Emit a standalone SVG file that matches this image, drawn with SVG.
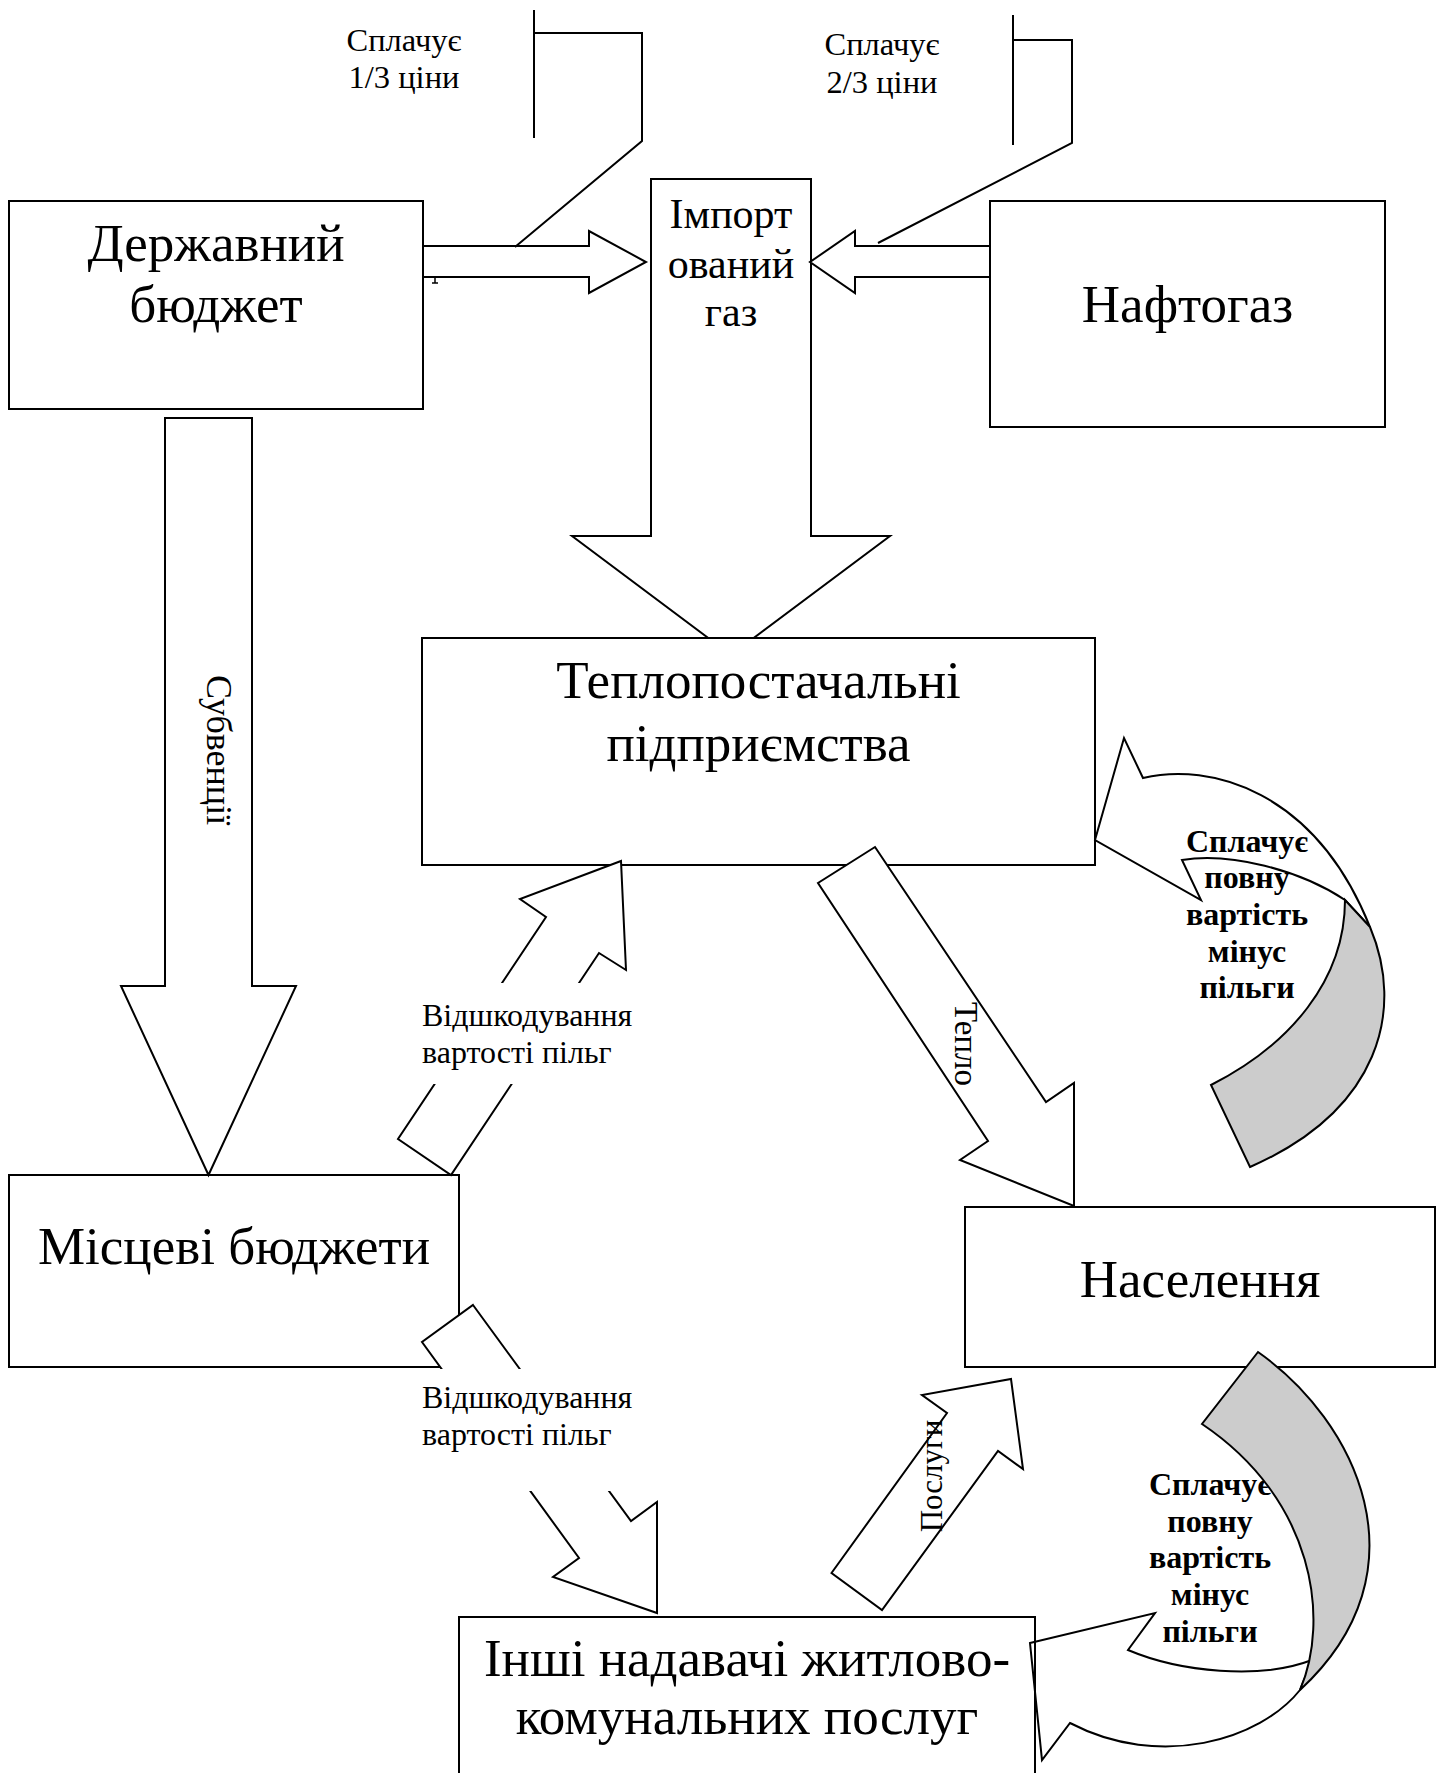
<svg xmlns="http://www.w3.org/2000/svg" width="1441" height="1773" viewBox="0 0 1441 1773">
<style>
.box{fill:#fff;stroke:#000;stroke-width:2}
.arr{fill:#fff;stroke:#000;stroke-width:2;stroke-linejoin:miter}
.gray{fill:#cccccc;stroke:#000;stroke-width:2}
.ln{fill:none;stroke:#000;stroke-width:2}
.big{font-family:"Liberation Serif","Times New Roman",serif;font-size:53px;text-anchor:middle;fill:#000}
.mid{font-family:"Liberation Serif","Times New Roman",serif;font-size:42px;text-anchor:middle;fill:#000}
.sm{font-family:"Liberation Serif","Times New Roman",serif;font-size:32px;fill:#000}
.smc{font-family:"Liberation Serif","Times New Roman",serif;font-size:32.5px;text-anchor:middle;fill:#000}
.rot{font-family:"Liberation Serif","Times New Roman",serif;font-size:32px;text-anchor:middle;fill:#000}
.bold{font-family:"Liberation Serif","Times New Roman",serif;font-size:32px;font-weight:bold;text-anchor:middle;fill:#000}
</style>
<rect x="0" y="0" width="1441" height="1773" fill="#fff"/>

<g id="node-derzhavnyi-biudzhet">
<rect class="box" x="9" y="201" width="414" height="208"/>
<text class="big" x="216" y="261">Державний</text>
<text class="big" x="216" y="322">бюджет</text>
</g>

<g id="node-importovanyi-gaz">
<polygon class="arr" points="651,179 811,179 811,536 890,536 731,655 572,536 651,536"/>
<text class="mid" x="731" y="228">Імпорт</text>
<text class="mid" x="731" y="278">ований</text>
<text class="mid" x="731" y="326">газ</text>
</g>

<g id="node-naftogaz">
<rect class="box" x="990" y="201" width="395" height="226"/>
<text class="big" x="1187.5" y="322">Нафтогаз</text>
</g>

<g id="node-teplopostachalni">
<rect class="box" x="422" y="638" width="673" height="227"/>
<text class="big" x="758.5" y="698">Теплопостачальні</text>
<text class="big" x="758.5" y="761">підприємства</text>
</g>

<g id="node-mistsevi-biudzhety">
<rect class="box" x="9" y="1175" width="450" height="192"/>
<text class="big" x="234" y="1264">Місцеві бюджети</text>
</g>

<g id="node-naselennia">
<rect class="box" x="965" y="1207" width="470" height="160"/>
<text class="big" x="1200" y="1297">Населення</text>
</g>

<g id="connectors">
<!-- Державний бюджет -> Імпортований газ -->
<polygon class="arr" points="423,246 589,246 589,231 646,262 589,293 589,277 423,277"/>
<path d="M435,278 L435,283 M432,283 L438,283" stroke="#000" stroke-width="1.5" fill="none"/>
<!-- Нафтогаз -> Імпортований газ -->
<polygon class="arr" points="990,246 855,246 855,231 810,262 855,293 855,277 990,277"/>

<!-- price share brackets -->
<g id="note-1-3">
<path class="ln" d="M534,10 L534,138 M534,33 L642,33 L642,141 L515,247"/>
<text class="smc" x="404" y="51">Сплачує</text>
<text class="smc" x="404" y="88">1/3 ціни</text>
</g>
<g id="note-2-3">
<path class="ln" d="M1013,15 L1013,145 M1013,40 L1072,40 L1072,143 L878,243"/>
<text class="smc" x="882" y="55">Сплачує</text>
<text class="smc" x="882" y="93">2/3 ціни</text>
</g>

<!-- Субвенції -->
<g id="arrow-subventsii">
<polygon class="arr" points="165,418 252,418 252,986 296,986 208.5,1175 121,986 165,986"/>
<text class="rot" transform="translate(207,750) rotate(90)" style="font-size:36px">Субвенції</text>
</g>

<!-- Відшкодування 1: Місцеві -> Теплопостачальні -->
<g id="arrow-vidshkoduvannia-1">
<polygon class="arr" points="621,861 626,970 599,953 451,1175 398,1139 546,917 520,899"/>
<rect x="418" y="983" width="226" height="101" fill="#fff"/>
<text class="sm" x="422" y="1026">Відшкодування</text>
<text class="sm" x="422" y="1063">вартості пільг</text>
</g>

<!-- Тепло -->
<g id="arrow-teplo">
<polygon class="arr" points="875,847 1046,1102 1074,1083 1074,1206 960,1160 988,1141 818,883"/>
<text class="rot" transform="translate(955,1044) rotate(90)" style="font-size:33px">Тепло</text>
</g>

<!-- Відшкодування 2: Місцеві -> Інші -->
<g id="arrow-vidshkoduvannia-2">
<polygon class="arr" points="473,1305 631,1521 657,1502 657,1613 553,1577 579,1558 422,1342"/>
<rect x="402" y="1369" width="242" height="122" fill="#fff"/>
<text class="sm" x="422" y="1408">Відшкодування</text>
<text class="sm" x="422" y="1445">вартості пільг</text>
</g>

<!-- Послуги -->
<g id="arrow-poslugy">
<polygon class="arr" points="831.5,1573 947,1413 922,1395 1011,1379 1023,1469 998,1451 882,1610"/>
<text class="rot" transform="translate(942,1476) rotate(-90)" style="font-size:31px">Послуги</text>
</g>

<!-- Населення -> Теплопостачальні (curved) -->
<g id="arrow-curved-upper">
<path class="arr" d="M1095,840 L1124,738 L1143,778 C1210,762 1315,790 1370,927 L1345,900 C1300,870 1230,852 1182,860 L1201,900 Z"/>
<path class="gray" d="M1345,900 L1370,927 C1405,1010 1380,1110 1250,1167 L1211,1085 C1290,1045 1345,980 1345,900 Z"/>
<text class="bold" x="1247" y="852">Сплачує</text>
<text class="bold" x="1247" y="888">повну</text>
<text class="bold" x="1247" y="925">вартість</text>
<text class="bold" x="1247" y="962">мінус</text>
<text class="bold" x="1247" y="998">пільги</text>
</g>

<!-- Населення -> Інші (curved) -->
<g id="arrow-curved-lower">
<path class="arr" d="M1030,1643 L1155,1613 L1128,1650 C1180,1672 1260,1680 1312,1660 L1300,1690 C1260,1740 1160,1770 1070,1723 L1042,1760 Z"/>
<text class="bold" x="1210" y="1495">Сплачує</text>
<text class="bold" x="1210" y="1532">повну</text>
<text class="bold" x="1210" y="1568">вартість</text>
<text class="bold" x="1210" y="1605">мінус</text>
<text class="bold" x="1210" y="1642">пільги</text>
<path class="gray" d="M1258,1352 C1355,1420 1430,1570 1300,1690 C1330,1620 1315,1500 1202,1424 Z"/>
</g>
</g>

<g id="node-inshi-nadavachi">
<rect x="459" y="1617" width="576" height="170" fill="none" stroke="#000" stroke-width="2"/>
<text class="big" x="747" y="1676">Інші надавачі житлово-</text>
<text class="big" x="747" y="1734">комунальних послуг</text>
</g>
</svg>
